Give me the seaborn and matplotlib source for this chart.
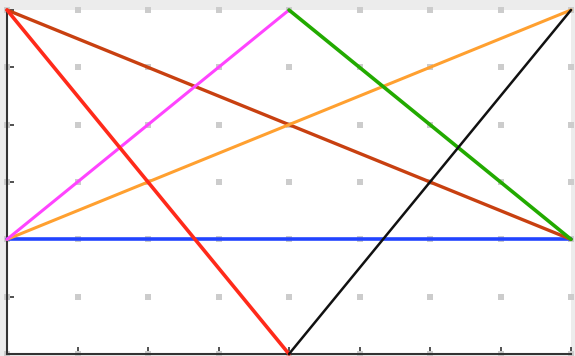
# plot.py
# Seven straight line series on one set of axes, dotted grid, no tick labels

import numpy as np
import pandas as pd
import matplotlib
matplotlib.use("Agg")
import matplotlib.pyplot as plt
import seaborn as sns

# Data
x_full = [0, 4, 8]
x_left = [0, 4]
x_right = [4, 8]

blue = [0, 0, 0]
red = [1, -0.5]
black = [-0.5, 1]
magenta = [0, 1]
green = [1, 0]
orange = [0, 0.5, 1]
brown = [1, 0.5, 0]

x_ticks = np.arange(0, 9, 1)
y_ticks = np.arange(-0.5, 1.01, 0.25)

sns.set_style("white")

fig = plt.figure(figsize=(5.75, 3.56), dpi=100, facecolor="#ececec")
ax = fig.add_axes([7 / 575, 2 / 356, 564 / 575, 344 / 356])
ax.set_facecolor("white")

# Grid dots at every tick crossing
gx, gy = np.meshgrid(x_ticks, y_ticks)
ax.scatter(gx.ravel(), gy.ravel(), marker="s", s=14, color="#cccccc",
           linewidths=0, zorder=1, clip_on=False)

# Lines
series = [
    (x_full, blue, "#2244ff", 2.6),
    (x_full, brown, "#c84010", 2.4),
    (x_full, orange, "#ffa030", 2.2),
    (x_left, magenta, "#ff44ff", 2.2),
    (x_right, green, "#22aa00", 2.6),
    (x_left, red, "#ff2a1a", 2.6),
    (x_right, black, "#111111", 1.8),
]
for xs, ys, col, lw in series:
    sns.lineplot(x=xs, y=ys, ax=ax, color=col, linewidth=lw, zorder=3,
                 clip_on=False)

ax.set_xlim(0, 8)
ax.set_ylim(-0.5, 1.0)
ax.set_xticks(x_ticks)
ax.set_yticks(y_ticks)
ax.set_xticklabels([])
ax.set_yticklabels([])
ax.tick_params(direction="in", length=5, width=1.2, color="#333333",
               left=True, bottom=True)

sns.despine(ax=ax)
for side in ["left", "bottom"]:
    ax.spines[side].set_color("#333333")
    ax.spines[side].set_linewidth(1.5)

fig.savefig("out.png", dpi=100, facecolor=fig.get_facecolor())
